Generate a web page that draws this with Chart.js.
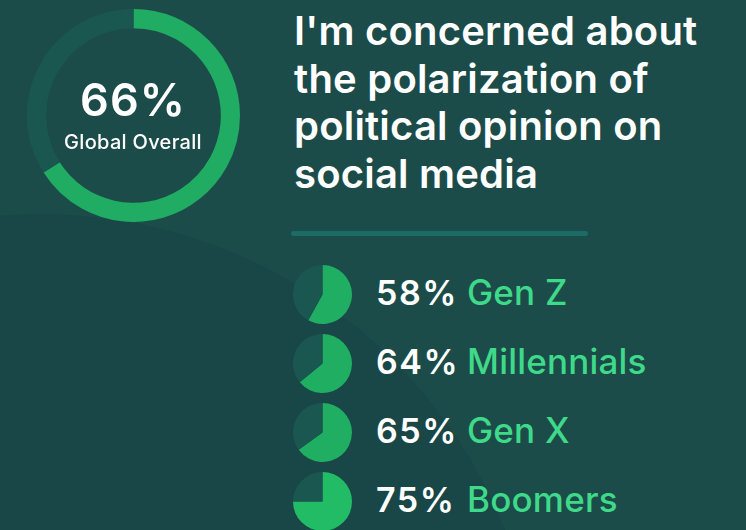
<!DOCTYPE html>
<html>
<head>
<meta charset="utf-8">
<script src="https://cdn.jsdelivr.net/npm/chart.js@4.4.1/dist/chart.umd.min.js"></script>
<style>
  html, body { margin: 0; padding: 0; }
  body { width: 746px; height: 530px; overflow: hidden; position: relative; background: #1c4c4a; font-family: Inter, "Liberation Sans", Arial, sans-serif; }
  .bgcircle { position: absolute; left: -460px; top: 214px; width: 1000px; height: 1000px; border-radius: 50%; background: #194646; }
  .box { position: absolute; }
  .sep { position: absolute; left: 291px; top: 231px; width: 297px; height: 5px; border-radius: 3px; background: #1b6b66; }
  .line { position: absolute; white-space: nowrap; line-height: 1; }
  .ttl { color: #ffffff; font-weight: 600; font-size: 40px; letter-spacing: 0.2px; }
  .pct { color: #ffffff; font-weight: 600; font-size: 34px; letter-spacing: 1.5px; }
  .lab { color: #3fd98a; font-weight: 500; font-size: 35px; letter-spacing: 0.2px; }
  .big { color: #ffffff; font-weight: 600; font-size: 45px; letter-spacing: 1px; text-align: center; width: 266px; }
  .sub { color: #ffffff; font-weight: 500; font-size: 20px; letter-spacing: 0.3px; text-align: center; width: 266px; }
</style>
</head>
<body>
<div class="bgcircle"></div>
<div class="box" style="left:27px;top:9px;width:213px;height:213px;"><canvas id="overall"></canvas></div>
<div class="sep"></div>
<div id="texts"></div>

<script>
// ---- data ----
const titleLines = ["I'm concerned about", "the polarization of", "political opinion on", "social media"];
const overallLabel = "Global Overall";
const overallValue = 66;
const categories = ["Gen Z", "Millennials", "Gen X", "Boomers"];
const values = [58, 64, 65, 75];

// ---- styles ----
const trackColor = "#1b5751";
const greens = ["#1fae62", "#1fae62", "#1fae62", "#22bb66"];
const bigGreen = "#20ac62";

const texts = document.getElementById('texts');
// place a text line so its baseline sits at y
function addText(txt, cls, left, baseline) {
  const d = document.createElement('div');
  d.className = 'line ' + cls;
  d.style.left = left + 'px';
  d.style.top = '0px';
  d.appendChild(document.createTextNode(txt));
  const probe = document.createElement('span');
  probe.style.display = 'inline-block';
  probe.style.width = '0px';
  probe.style.height = '0px';
  probe.style.verticalAlign = 'baseline';
  d.appendChild(probe);
  texts.appendChild(d);
  const off = probe.getBoundingClientRect().top - d.getBoundingClientRect().top;
  d.style.top = (baseline - off) + 'px';
  return d;
}

const titleBase = [45, 93, 140, 188];
titleLines.forEach((t, i) => addText(t, 'ttl', 294, titleBase[i]));
addText(overallValue + '%', 'big', 0, 116);
addText(overallLabel, 'sub', 0, 149);

const baseOpts = {
  responsive: true,
  maintainAspectRatio: false,
  animation: false,
  events: [],
  layout: { padding: 0 },
  plugins: { legend: { display: false }, tooltip: { enabled: false } }
};

new Chart(document.getElementById('overall'), {
  type: 'doughnut',
  data: {
    labels: ['Agree', 'Other'],
    datasets: [{ data: [overallValue, 100 - overallValue], backgroundColor: [bigGreen, trackColor], borderWidth: 0 }]
  },
  options: Object.assign({}, baseOpts, { cutout: '82%' })
});

const rowTop = [265, 334, 403, 472];
const baselines = [305, 374, 443, 512];
categories.forEach((cat, i) => {
  const box = document.createElement('div');
  box.className = 'box';
  box.style.left = '293px';
  box.style.top = rowTop[i] + 'px';
  box.style.width = '59px';
  box.style.height = '59px';
  const cv = document.createElement('canvas');
  box.appendChild(cv);
  document.body.appendChild(box);

  addText(values[i] + '%', 'pct', 376, baselines[i]);
  addText(cat, 'lab', 467, baselines[i]);

  new Chart(cv, {
    type: 'pie',
    data: {
      labels: [cat, 'Other'],
      datasets: [{ data: [values[i], 100 - values[i]], backgroundColor: [greens[i], trackColor], borderWidth: 0 }]
    },
    options: baseOpts
  });
});
</script>
</body>
</html>
